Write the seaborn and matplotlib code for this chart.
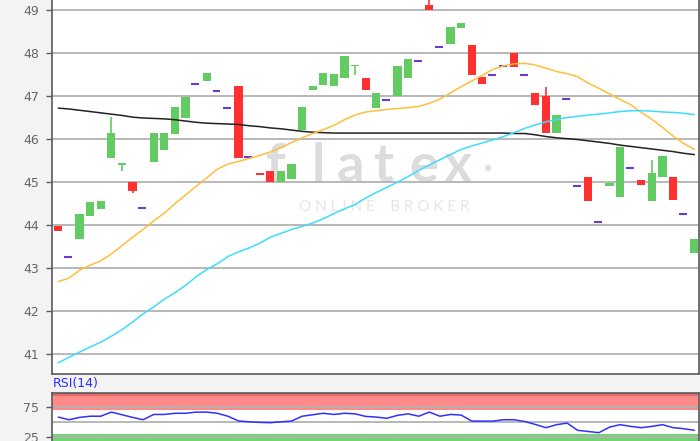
import numpy as np
import pandas as pd
import matplotlib
matplotlib.use("Agg")
import matplotlib.pyplot as plt
import seaborn as sns

# ---------------- data ----------------
opens = [43.99, 43.27, 43.68, 44.22, 44.38, 45.57, 45.39, 45.00, 44.39, 45.46,
         45.74, 46.13, 46.50, 47.29, 47.35, 47.11, 46.72, 47.24, 45.58, 45.21,
         45.27, 45.00, 45.08, 46.20, 47.14, 47.25, 47.23, 47.43, 47.70, 47.42,
         46.73, 46.90, 47.00, 47.43, 47.81, 49.12, 48.14, 48.22, 48.57, 48.18,
         47.45, 47.50, 47.69, 47.99, 47.50, 47.06, 47.00, 46.14, 46.93, 44.90,
         45.11, 44.08, 44.92, 44.65, 45.33, 45.04, 44.57, 45.13, 45.13, 44.26,
         43.35]
highs = [43.99, 43.27, 44.27, 44.55, 44.57, 46.51, 45.45, 45.00, 44.39, 46.14,
         46.14, 46.75, 46.98, 47.29, 47.54, 47.11, 46.72, 47.24, 45.58, 45.21,
         45.27, 45.27, 45.43, 46.75, 47.24, 47.54, 47.51, 47.93, 47.72, 47.42,
         47.08, 46.90, 47.69, 47.87, 47.81, 49.40, 48.14, 48.60, 48.69, 48.18,
         47.45, 47.50, 47.69, 47.99, 47.50, 47.06, 47.21, 46.57, 46.93, 44.90,
         45.11, 44.08, 44.97, 45.82, 45.33, 45.04, 45.52, 45.60, 45.13, 44.26,
         43.68]
lows = [43.86, 43.27, 43.68, 44.22, 44.38, 45.57, 45.25, 44.74, 44.39, 45.46,
        45.74, 46.13, 46.50, 47.29, 47.35, 47.11, 46.72, 45.57, 45.58, 45.17,
        45.00, 45.00, 45.08, 46.20, 47.14, 47.25, 47.23, 47.43, 47.48, 47.15,
        46.73, 46.90, 47.00, 47.43, 47.81, 49.00, 48.14, 48.22, 48.57, 47.48,
        47.27, 47.50, 47.69, 47.68, 47.50, 46.80, 46.14, 46.14, 46.93, 44.90,
        44.57, 44.08, 44.92, 44.65, 45.33, 44.94, 44.57, 45.13, 44.59, 44.26,
        43.35]
closes = [43.86, 43.27, 44.27, 44.55, 44.57, 46.14, 45.45, 44.80, 44.39, 46.14,
          46.14, 46.75, 46.98, 47.29, 47.54, 47.11, 46.72, 45.57, 45.58, 45.17,
          45.00, 45.27, 45.43, 46.75, 47.24, 47.54, 47.51, 47.93, 47.72, 47.15,
          47.08, 46.90, 47.69, 47.87, 47.81, 49.00, 48.14, 48.60, 48.69, 47.48,
          47.27, 47.50, 47.69, 47.68, 47.50, 46.80, 46.14, 46.57, 46.93, 44.90,
          44.57, 44.08, 44.97, 45.82, 45.33, 44.94, 45.21, 45.60, 44.59, 44.26,
          43.68]

ma_black = [46.72, 46.70, 46.67, 46.64, 46.61, 46.58, 46.55, 46.51, 46.49, 46.48,
            46.47, 46.45, 46.42, 46.39, 46.37, 46.36, 46.35, 46.34, 46.31, 46.29,
            46.26, 46.24, 46.21, 46.18, 46.16, 46.15, 46.14, 46.14, 46.14, 46.14,
            46.14, 46.14, 46.14, 46.14, 46.14, 46.14, 46.14, 46.14, 46.14, 46.14,
            46.14, 46.14, 46.14, 46.13, 46.13, 46.10, 46.06, 46.03, 46.01, 45.99,
            45.96, 45.93, 45.90, 45.86, 45.83, 45.80, 45.77, 45.74, 45.71, 45.67,
            45.64]
ma_orange = [42.69, 42.77, 42.95, 43.07, 43.17, 43.33, 43.52, 43.72, 43.90, 44.10,
             44.28, 44.50, 44.70, 44.90, 45.10, 45.30, 45.42, 45.48, 45.55, 45.62,
             45.70, 45.80, 45.92, 46.03, 46.13, 46.22, 46.32, 46.45, 46.56, 46.63,
             46.66, 46.69, 46.71, 46.73, 46.76, 46.83, 46.93, 47.07, 47.22, 47.35,
             47.48, 47.62, 47.70, 47.75, 47.76, 47.72, 47.65, 47.57, 47.52, 47.45,
             47.30, 47.18, 47.05, 46.92, 46.80, 46.62, 46.46, 46.27, 46.07, 45.90,
             45.76]
ma_cyan = [40.80, 40.93, 41.05, 41.17, 41.28, 41.42, 41.57, 41.75, 41.94, 42.10,
           42.28, 42.43, 42.60, 42.80, 42.97, 43.10, 43.27, 43.38, 43.47, 43.58,
           43.72, 43.81, 43.90, 43.97, 44.05, 44.15, 44.27, 44.38, 44.48, 44.63,
           44.76, 44.88, 45.00, 45.13, 45.27, 45.40, 45.52, 45.64, 45.76, 45.84,
           45.91, 45.98, 46.06, 46.15, 46.25, 46.33, 46.40, 46.46, 46.50, 46.53,
           46.56, 46.58, 46.61, 46.64, 46.66, 46.66, 46.65, 46.63, 46.62, 46.60,
           46.57]
rsi = [58.5, 54.0, 58.0, 60.0, 60.0, 67.0, 62.6, 58.0, 54.0, 63.0,
       63.0, 65.0, 65.0, 67.0, 67.0, 65.0, 60.0, 52.0, 50.5, 49.5,
       49.0, 50.5, 51.7, 60.0, 62.5, 65.0, 63.0, 65.0, 64.0, 59.7,
       58.5, 56.5, 61.5, 64.0, 60.0, 67.0, 60.0, 63.0, 62.0, 51.7,
       51.7, 51.7, 54.0, 54.0, 51.0, 46.0, 40.5, 45.6, 48.3, 36.0,
       34.0, 32.0, 41.5, 45.6, 42.7, 40.5, 42.7, 45.6, 40.5, 38.8,
       36.0]
price_ticks = [41, 42, 43, 44, 45, 46, 47, 48, 49]
rsi_ticks = [25, 75]
rsi_title = "RSI(14)"
logo_letters = ["f", "l", "a", "t", "e", "x", "•"]
logo_sub = "O N L I N E    B R O K E R"

# ---------------- styling ----------------
sns.set_theme(style="white")
plt.rcParams['font.family'] = ['DejaVu Sans']

GREEN = '#62cb62'
RED = '#ff3030'
PURPLE = '#6a3bd4'
ORANGE = '#ffbe3c'
CYAN = '#3cdcff'
BG = '#f3f3f3'
GRID = '#b2b2b2'
SPINE = '#5a5a5a'
LABEL = '#666666'

W, H = 700, 441
fig = plt.figure(figsize=(7, 4.41), dpi=100, facecolor=BG)

ax = fig.add_axes([52 / W, (H - 374) / H, (699 - 52) / W, 374 / H])
ax.set_facecolor('white')

df = pd.DataFrame({'i': np.arange(len(opens)), 'open': opens, 'high': highs,
                   'low': lows, 'close': closes, 'black': ma_black,
                   'orange': ma_orange, 'cyan': ma_cyan, 'rsi': rsi})

# watermark (pixel positions of each letter centre in the reference)
logo_x_px = [276, 318, 350, 383, 424, 458, 488]
for ch, xp in zip(logo_letters, logo_x_px):
    if ch == "•":
        ax.text((xp - 52) / 647, (374 - 170) / 374, ch, transform=ax.transAxes,
                fontsize=15, color='#dcdcdc', ha='center', va='center',
                zorder=0.5)
    else:
        ax.text((xp - 52) / 647, (374 - 182) / 374, ch, transform=ax.transAxes,
                fontsize=39, color='#dcdcdc', ha='center', va='baseline',
                family='Lato', fontweight='bold', zorder=0.5)
ax.text((384 - 52) / 647, (374 - 207) / 374, logo_sub, transform=ax.transAxes,
        fontsize=11, color='#e6e6e6', ha='center', va='center',
        family='Lato', zorder=0.5)

# grid lines
for t in price_ticks:
    ax.axhline(t, color=GRID, lw=1.3, zorder=1)

# candles
flat = (df['open'] == df['close']) & (df['high'] == df['low'])
up = (df['close'] > df['open']) & ~flat
down = (df['close'] < df['open']) & ~flat
bw = 0.78
for mask, col in ((up, GREEN), (down, RED)):
    d = df[mask]
    ax.vlines(d['i'], d['low'], d['high'], color=col, lw=1.2, zorder=2)
    body_lo = np.minimum(d['open'], d['close'])
    body_h = np.maximum(np.abs(d['close'] - d['open']), 0.03)
    ax.bar(d['i'], body_h, bottom=body_lo, width=bw, color=col,
           edgecolor='none', zorder=3)
dflat = df[flat]
ax.hlines(dflat['close'], dflat['i'] - 0.45, dflat['i'] + 0.3,
          color=PURPLE, lw=1.5, zorder=3)

# moving averages
sns.lineplot(data=df, x='i', y='black', color='#222222', lw=1.1, ax=ax, zorder=4)
sns.lineplot(data=df, x='i', y='orange', color=ORANGE, lw=1.1, ax=ax, zorder=4)
sns.lineplot(data=df, x='i', y='cyan', color=CYAN, lw=1.1, ax=ax, zorder=4)

ax.set_xlim(-0.594, 60.44)
ax.set_ylim(40.542, 49.232)
ax.set_yticks(price_ticks)
ax.set_yticklabels([str(t) for t in price_ticks])
ax.set_xticks([])
ax.set_xlabel('')
ax.set_ylabel('')
ax.tick_params(axis='y', left=True, length=4, width=1, color=SPINE,
               labelcolor=LABEL, labelsize=9, pad=5)
for s in ('left', 'bottom', 'right'):
    ax.spines[s].set_visible(True)
    ax.spines[s].set_color(SPINE)
    ax.spines[s].set_linewidth(1.2)
ax.spines['top'].set_visible(False)

# ---------------- RSI panel ----------------
top_px = 392.7
bot_px = 451.5
ax2 = fig.add_axes([52 / W, (H - bot_px) / H, (699 - 52) / W, (bot_px - top_px) / H])
ax2.set_facecolor('white')
ax2.axhspan(70, 100, color='#ff8a8a', lw=0, zorder=0.5)
ax2.axhspan(0, 30, color='#72d472', lw=0, zorder=0.5)
ax2.axhline(97.5, color='#e06a6a', lw=2.0, zorder=0.6)
for t in (75, 50, 25):
    ax2.axhline(t, color=GRID, lw=1.3, zorder=1)
sns.lineplot(data=df, x='i', y='rsi', color='#3030ff', lw=1.1, ax=ax2, zorder=3)
ax2.set_xlim(-0.594, 60.44)
ax2.set_ylim(0, 100)
ax2.set_yticks(rsi_ticks)
ax2.set_yticklabels([str(t) for t in rsi_ticks])
ax2.set_xticks([])
ax2.set_xlabel('')
ax2.set_ylabel('')
ax2.tick_params(axis='y', left=True, length=4, width=1, color=SPINE,
                labelcolor=LABEL, labelsize=9, pad=5)
for s in ('left', 'top', 'right'):
    ax2.spines[s].set_visible(True)
    ax2.spines[s].set_color(SPINE)
    ax2.spines[s].set_linewidth(1.2)
ax2.spines['bottom'].set_visible(False)
fig.text(53 / W, (H - 384) / H, rsi_title, color='#2a2aff', fontsize=9,
         ha='left', va='center')

fig.savefig('out.png', dpi=100, facecolor=BG)
